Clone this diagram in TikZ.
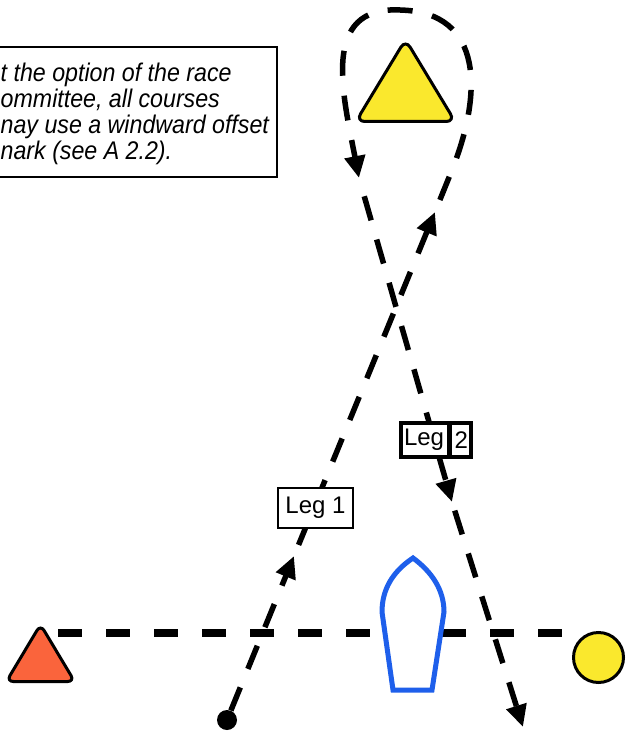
\documentclass[tikz,border=0pt]{standalone}
\usepackage{graphicx}
\usepackage{fontspec}
\setmainfont{Liberation Sans}
\usetikzlibrary{arrows.meta,shapes.multipart}
\definecolor{markyellow}{RGB}{250,232,45}
\definecolor{markorange}{RGB}{250,100,60}
\definecolor{boatblue}{RGB}{30,95,235}
\begin{document}
\begin{tikzpicture}[x=1pt,y=-1pt,
  course/.style={line width=5.5pt, dash pattern=on 25pt off 20pt},
  tipend/.style={-{Triangle[length=22pt,width=20pt]}},
  markline/.style={line width=3pt},
  labelfont/.style={font=\fontsize{24}{24}\selectfont}]
\path[use as bounding box, clip] (0,0) rectangle (633,738);

% note box (its left part lies beyond the picture's edge)
\draw[line width=1.8pt] (-40,47) rectangle (277,177);
\node[anchor=base west, inner sep=0pt] (note) at (0.5,82)
  {\scalebox{1}[1.1]{\parbox[t]{275pt}{\raggedright\itshape\fontsize{23.2}{23.6}\selectfont
   t the option of the race\\ommittee, all courses\\nay use a windward offset\\nark (see A 2.2).}}};

% start line
\coordinate (sl) at (58,632.5);
\coordinate (sr) at (562,632.5);
\draw[line width=8pt, dash pattern=on 24pt off 24pt] (sl) -- (sr);

% pin end mark (orange)
\draw[markline, fill=markorange, rounded corners=7pt]
  (40.5,624.5) -- (74.6,681.5) -- (6.4,681.5) -- cycle;
% starboard end mark (yellow circle)
\node[circle, draw, markline, fill=markyellow, minimum size=50pt, inner sep=0pt] (circ) at (598.5,657.5) {};
% windward mark
\draw[markline, fill=markyellow, rounded corners=9pt]
  (405.5,39.5) -- (455.1,121.5) -- (355.9,121.5) -- cycle;

% committee boat
\draw[line width=5pt, draw=boatblue, fill=white]
  (413,558) .. controls (392,572) and (382,590) .. (382,612) -- (393,690)
  -- (432,690) -- (444,612) .. controls (444,590) and (432,572) .. (413,558) -- cycle;

% course
\node[circle, fill=black, minimum size=20pt, inner sep=0pt] (start) at (227,720) {};
\coordinate (a1) at (294,556);
\coordinate (a2) at (435,212);
\coordinate (r1) at (452,170);
\coordinate (top) at (400,10);
\coordinate (a3) at (359,178);
\coordinate (a4) at (452,502);
\coordinate (fin) at (523,727);

\draw[course, tipend] (start) -- (a1);
\draw[course, dash phase=33pt, tipend] (a1) -- (a2);
\draw[course, dash phase=32pt, tipend] (a2) -- (r1)
  .. controls (482,95) and (485,12) .. (top)
  .. controls (320,6) and (343,95) .. (a3);
\draw[course, dash phase=26pt, tipend] (a3) -- (a4);
\draw[course, dash phase=36pt, tipend] (a4) -- (fin);

% labels
\node[draw, line width=1.5pt, fill=white, minimum width=75pt, minimum height=40pt,
      inner sep=0pt, labelfont] (leg1) at (315.5,508) {Leg 1};
\node[rectangle split, rectangle split horizontal, rectangle split parts=2,
      draw, line width=4.5pt, fill=white, inner xsep=3pt, inner ysep=6pt, labelfont]
      (leg2) at (436,440) {Leg\nodepart{two}2};
\end{tikzpicture}
\end{document}
